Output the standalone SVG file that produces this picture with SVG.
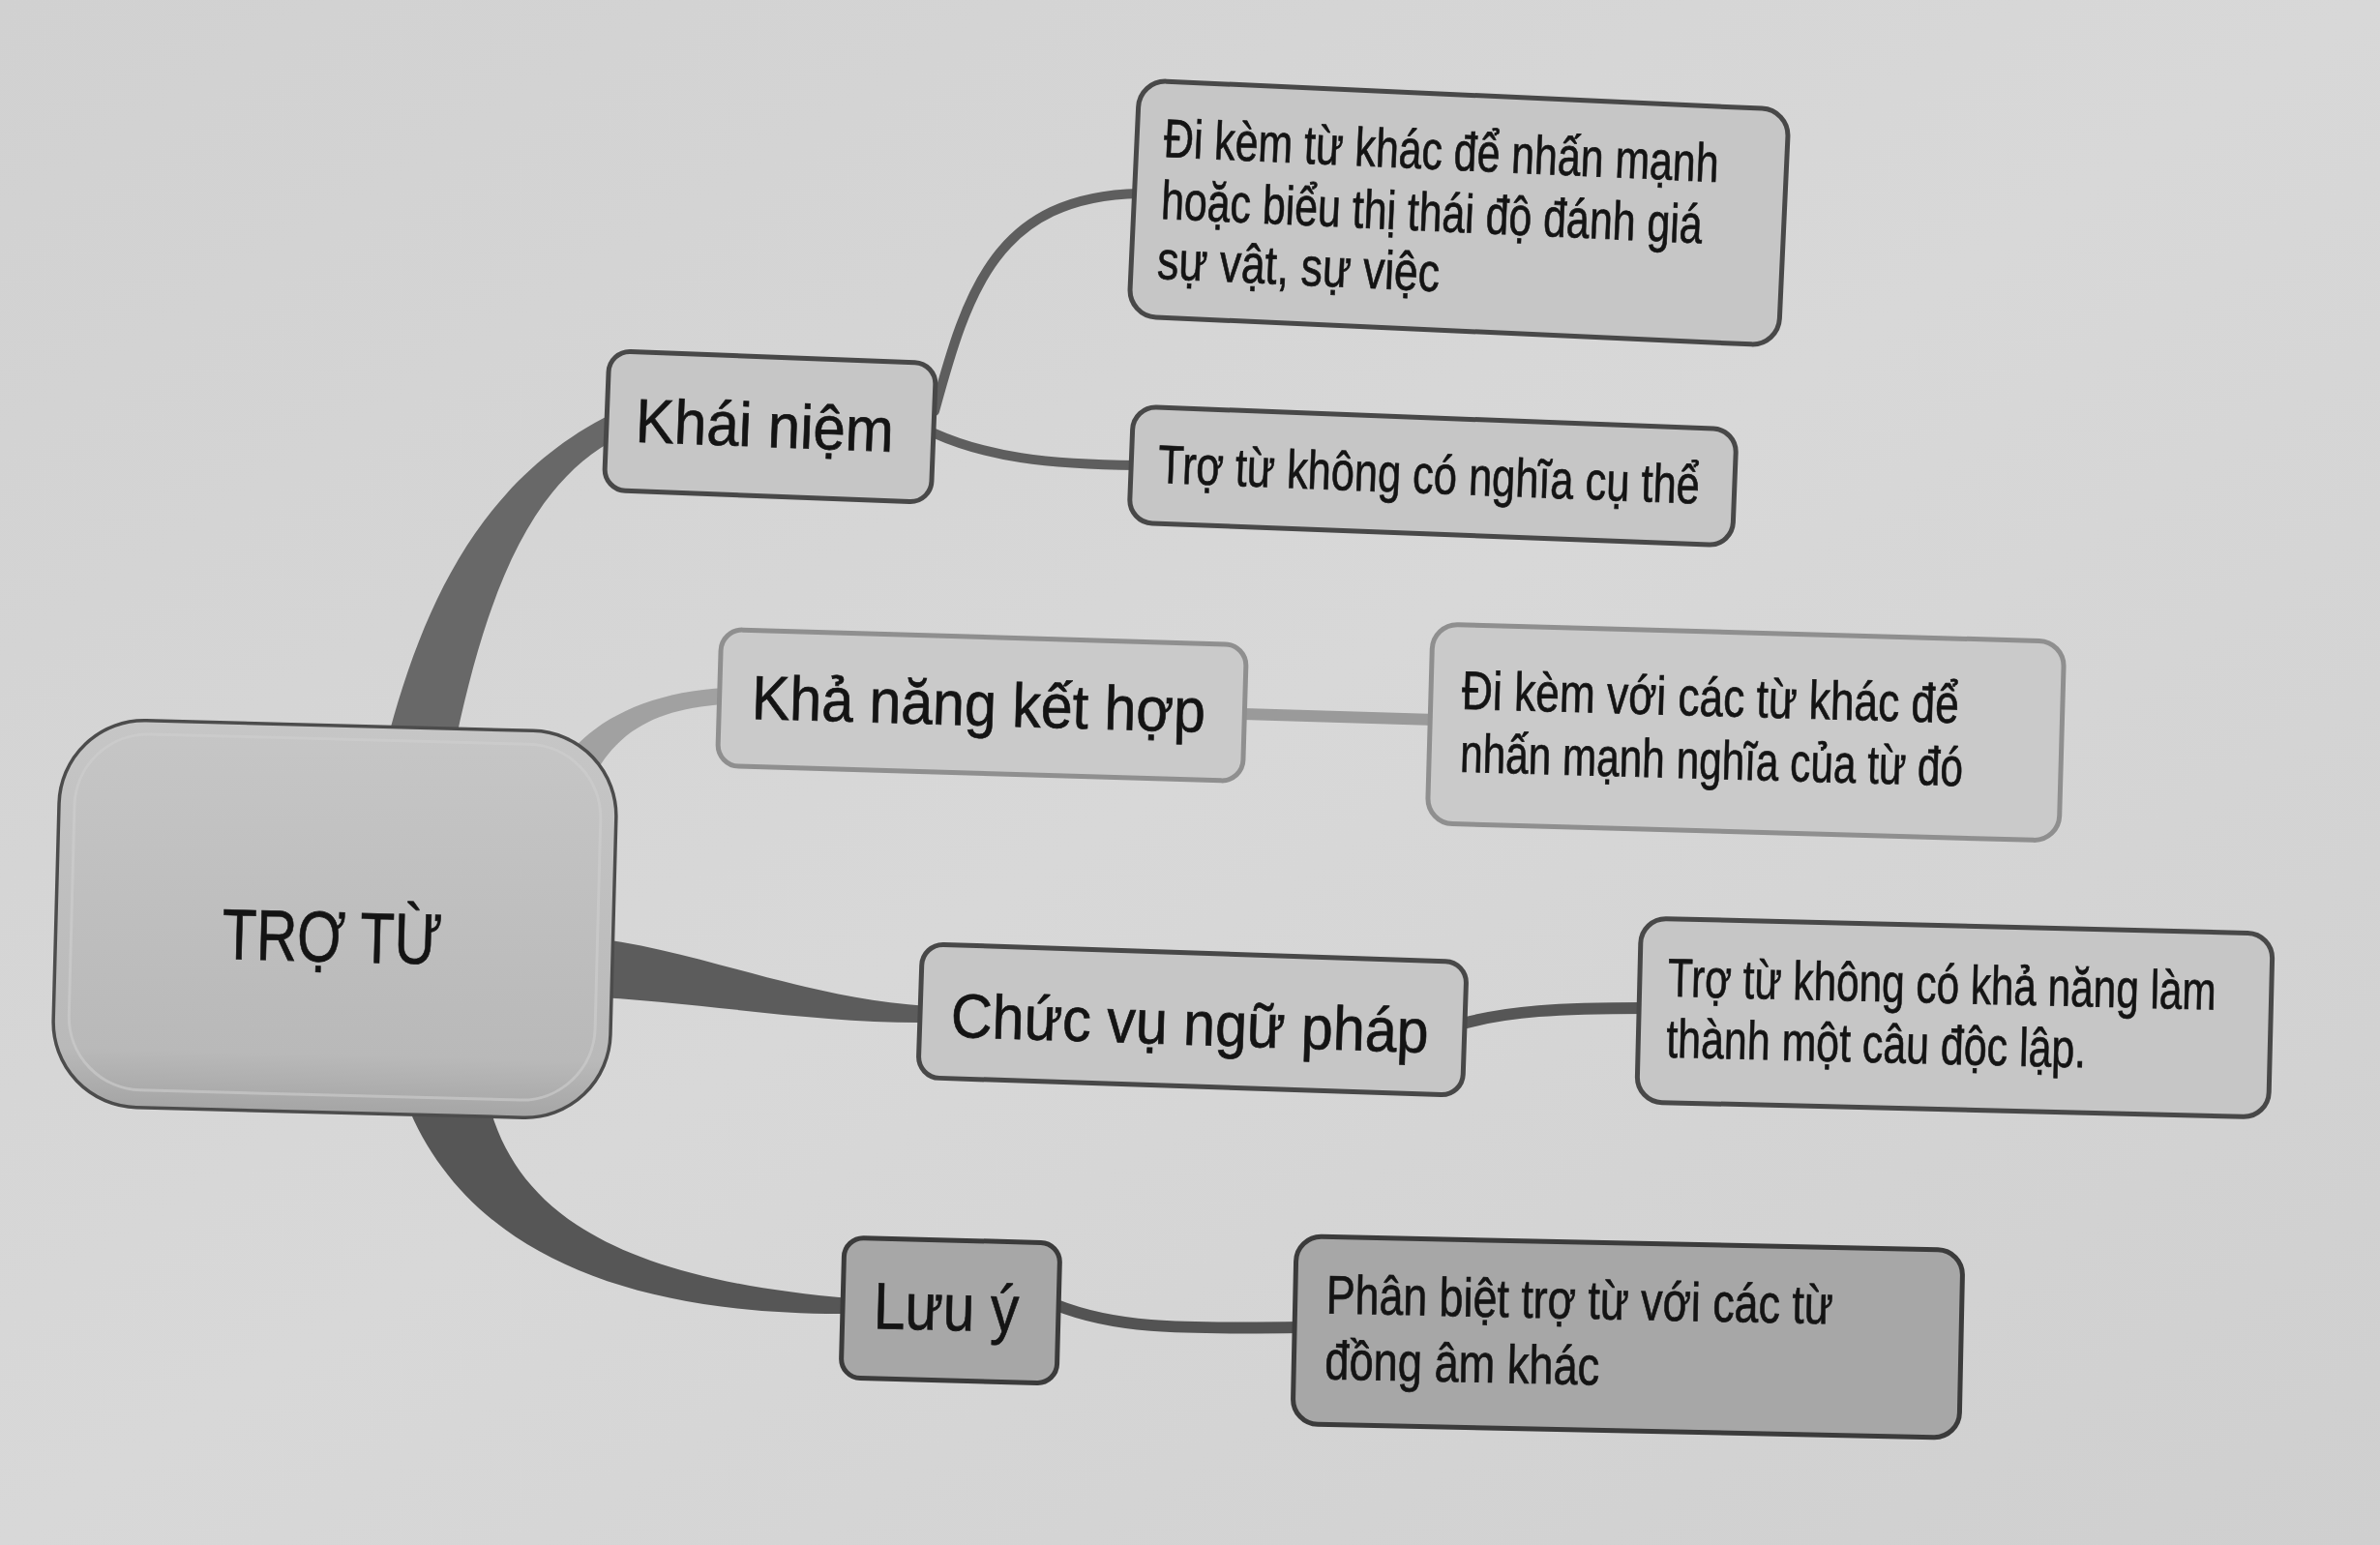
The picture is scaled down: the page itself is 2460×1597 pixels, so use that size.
<svg xmlns="http://www.w3.org/2000/svg" width="2460" height="1597" viewBox="0 0 2460 1597">
<defs>
<linearGradient id="bg" x1="0" y1="0" x2="1" y2="1">
<stop offset="0" stop-color="#d1d1d1"/>
<stop offset="0.5" stop-color="#d8d8d8"/>
<stop offset="1" stop-color="#cfcfcf"/>
</linearGradient>
<linearGradient id="cg" x1="0" y1="0" x2="0" y2="1">
<stop offset="0" stop-color="#c6c6c6"/>
<stop offset="0.85" stop-color="#b9b9b9"/>
<stop offset="1" stop-color="#a5a5a5"/>
</linearGradient>
<style>
.node rect{fill:#c6c6c6;stroke:#484848;stroke-width:5}
.light rect{stroke:#8f8f8f;fill:#cacaca}
.dark rect{fill:#a7a7a7;stroke:#3b3b3b}
text{font-family:"Liberation Sans Narrow","Liberation Sans",Arial,sans-serif;fill:#141414;stroke:#141414;stroke-width:0.7}
.t1{font-size:64px}
.t2{font-size:56px}
.line{fill:none;stroke-linecap:round}
</style>
</defs>
<rect width="2460" height="1597" fill="url(#bg)"/>
<g id="connectors">
<path d="M403 790 L403 755 C440 620 500 490 640 424 L640 452 C545 500 500 620 466 790 Z" fill="#686868"/>
<path d="M580 790 C610 745 670 715 750 711 L750 728 C680 732 640 755 615 800 Z" fill="#a1a1a1"/>
<path d="M600 968 C720 980 820 1030 958 1040 L958 1057 C840 1058 720 1035 600 1030 Z" fill="#5c5c5c"/>
<path d="M505 1140 C535 1255 640 1322 878 1342 L878 1358 C640 1360 480 1290 420 1140 Z" fill="#565656"/>
<path class="line" d="M966 425 C1000 300 1030 203 1178 200" stroke="#5e5e5e" stroke-width="10"/>
<path class="line" d="M966 448 C1020 472 1080 480 1176 481" stroke="#5e5e5e" stroke-width="10"/>
<path class="line" d="M1285 738 L1484 744" stroke="#9a9a9a" stroke-width="12"/>
<path class="line" d="M1512 1058 C1560 1045 1610 1042 1700 1042" stroke="#565656" stroke-width="12"/>
<path class="line" d="M1092 1349 C1150 1372 1210 1374 1344 1372" stroke="#535353" stroke-width="12"/>
</g>
<g id="center" transform="rotate(1.5 346 950)">
<rect x="58" y="750" width="576" height="400" rx="88" fill="url(#cg)" stroke="#4c4c4c" stroke-width="3.5"/>
<rect x="74" y="764" width="544" height="368" rx="76" fill="none" stroke="#cfcfcf" stroke-width="3" opacity="0.6"/>
<text x="230" y="994" font-size="74" textLength="228" lengthAdjust="spacingAndGlyphs">TRỢ TỪ</text>
</g>
<g id="khai-niem" class="node" transform="rotate(2.2 796 441)">
<rect x="627" y="369" width="338" height="144" rx="22"/>
<text class="t1" x="657" y="462" textLength="267" lengthAdjust="spacingAndGlyphs">Khái niệm</text>
</g>
<g id="khai-niem-1" class="node" transform="rotate(2.6 1508 220)">
<rect x="1172" y="98" width="672" height="244" rx="28"/>
<text class="t2" x="1200" y="176" textLength="574" lengthAdjust="spacingAndGlyphs">Đi kèm từ khác để nhấn mạnh</text>
<text class="t2" x="1200" y="240" textLength="560" lengthAdjust="spacingAndGlyphs">hoặc biểu thị thái độ đánh giá</text>
<text class="t2" x="1199" y="302" textLength="292" lengthAdjust="spacingAndGlyphs">sự vật, sự việc</text>
</g>
<g id="khai-niem-2" class="node" transform="rotate(2.2 1481 492)">
<rect x="1169" y="432" width="624" height="120" rx="24"/>
<text class="t2" x="1197" y="510" textLength="560" lengthAdjust="spacingAndGlyphs">Trợ từ không có nghĩa cụ thể</text>
</g>
<g id="kha-nang" class="node light" transform="rotate(1.7 1015 729)">
<rect x="743.5" y="658.5" width="543" height="141" rx="22"/>
<text class="t1" x="777" y="750" textLength="469" lengthAdjust="spacingAndGlyphs">Khả năng kết hợp</text>
</g>
<g id="kha-nang-1" class="node light" transform="rotate(1.6 1804 757)">
<rect x="1478" y="654" width="653" height="206" rx="26"/>
<text class="t2" x="1510" y="741" textLength="514" lengthAdjust="spacingAndGlyphs">Đi kèm với các từ khác để</text>
<text class="t2" x="1510" y="806" textLength="520" lengthAdjust="spacingAndGlyphs">nhấn mạnh nghĩa của từ đó</text>
</g>
<g id="chuc-vu" class="node" transform="rotate(1.9 1232 1054)">
<rect x="951" y="985" width="563" height="138" rx="22"/>
<text class="t1" x="983" y="1080" textLength="494" lengthAdjust="spacingAndGlyphs">Chức vụ ngữ pháp</text>
</g>
<g id="chuc-vu-1" class="node" transform="rotate(1.4 2020 1052)">
<rect x="1694" y="957" width="653" height="190" rx="26"/>
<text class="t2" x="1723" y="1037" textLength="567" lengthAdjust="spacingAndGlyphs">Trợ từ không có khả năng làm</text>
<text class="t2" x="1723" y="1100" textLength="434" lengthAdjust="spacingAndGlyphs">thành một câu độc lập.</text>
</g>
<g id="luu-y" class="node dark" transform="rotate(1.5 982 1354)">
<rect x="871" y="1282" width="223" height="145" rx="20"/>
<text x="903" y="1375" font-size="68" textLength="150" lengthAdjust="spacingAndGlyphs">Lưu ý</text>
</g>
<g id="luu-y-1" class="node dark" transform="rotate(1.2 1683 1382)">
<rect x="1338" y="1285" width="689" height="194" rx="26"/>
<text class="t2" x="1370" y="1364" textLength="524" lengthAdjust="spacingAndGlyphs">Phân biệt trợ từ với các từ</text>
<text class="t2" x="1370" y="1432" textLength="284" lengthAdjust="spacingAndGlyphs">đồng âm khác</text>
</g>
</svg>
